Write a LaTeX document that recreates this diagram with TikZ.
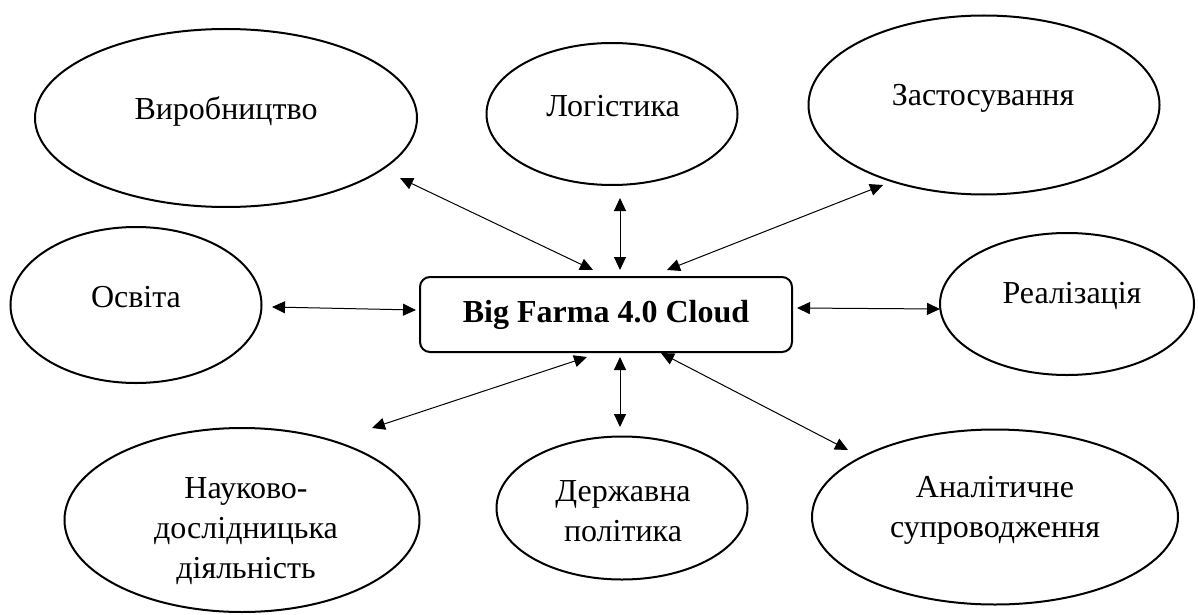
\documentclass[tikz,border=0pt]{standalone}
\usepackage{fontspec}
\setmainfont{Liberation Serif}
\usetikzlibrary{shapes.geometric,arrows.meta}
\begin{document}
\begin{tikzpicture}[x=1pt,y=-1pt,
  ell/.style={draw, line width=2pt, ellipse, inner sep=0pt},
  lbl/.style={font=\fontsize{32}{40}\selectfont, align=center, inner sep=0pt},
  hub/.style={draw, line width=2pt, rounded corners=10pt, inner sep=0pt,
    font=\fontsize{32}{40}\selectfont\bfseries},
  link/.style={line width=1pt,
    {Triangle[length=13pt,width=12pt]}-{Triangle[length=13pt,width=12pt]}}]
\useasboundingbox (0,0) rectangle (1198,615);

% ellipses
\node[ell, minimum width=382pt, minimum height=178pt] (viro) at (226,118) {};
\node[lbl] (virot) at (226,111) {Виробництво};

\node[ell, minimum width=251pt, minimum height=142pt] (logi) at (612,114) {};
\node[lbl] (logit) at (613,106) {Логістика};

\node[ell, minimum width=351pt, minimum height=179pt] (zast) at (984,105) {};
\node[lbl] (zastt) at (983,98) {Застосування};

\node[ell, minimum width=251pt, minimum height=156pt] (osvi) at (136,305) {};
\node[lbl] (osvit) at (136,297) {Освіта};

\node[ell, minimum width=254pt, minimum height=142pt] (real) at (1067,304) {};
\node[lbl] (realt) at (1072,296) {Реалізація};

\node[ell, minimum width=355pt, minimum height=184pt] (nauk) at (242,520) {};
\node[lbl] (naukt) at (246,531) {Науково-\\дослідницька\\діяльність};

\node[ell, minimum width=251pt, minimum height=143pt] (derz) at (622,508) {};
\node[lbl] (derzt) at (623,511) {Державна\\політика};

\node[ell, minimum width=366pt, minimum height=175pt] (anal) at (995,517) {};
\node[lbl] (analt) at (995,510) {Аналітичне\\супроводження};

% hub
\node[hub, minimum width=372pt, minimum height=75pt] (hub) at (606,314.5) {Big Farma 4.0 Cloud};

% connector end points
\coordinate (a1s) at (400,178); \coordinate (a1e) at (593,270);
\coordinate (a2s) at (620,198); \coordinate (a2e) at (620,270);
\coordinate (a3s) at (883,185); \coordinate (a3e) at (667,270);
\coordinate (a4s) at (272,307); \coordinate (a4e) at (416,310);
\coordinate (a5s) at (797,308); \coordinate (a5e) at (940,309);
\coordinate (a6s) at (372,428); \coordinate (a6e) at (587,357);
\coordinate (a7s) at (620,357); \coordinate (a7e) at (620,427);
\coordinate (a8s) at (661,353); \coordinate (a8e) at (848,450);

\draw[link] (a1s) -- (a1e);
\draw[link] (a2s) -- (a2e);
\draw[link] (a3s) -- (a3e);
\draw[link] (a4s) -- (a4e);
\draw[link] (a5s) -- (a5e);
\draw[link] (a6s) -- (a6e);
\draw[link] (a7s) -- (a7e);
\draw[link] (a8s) -- (a8e);
\end{tikzpicture}
\end{document}
